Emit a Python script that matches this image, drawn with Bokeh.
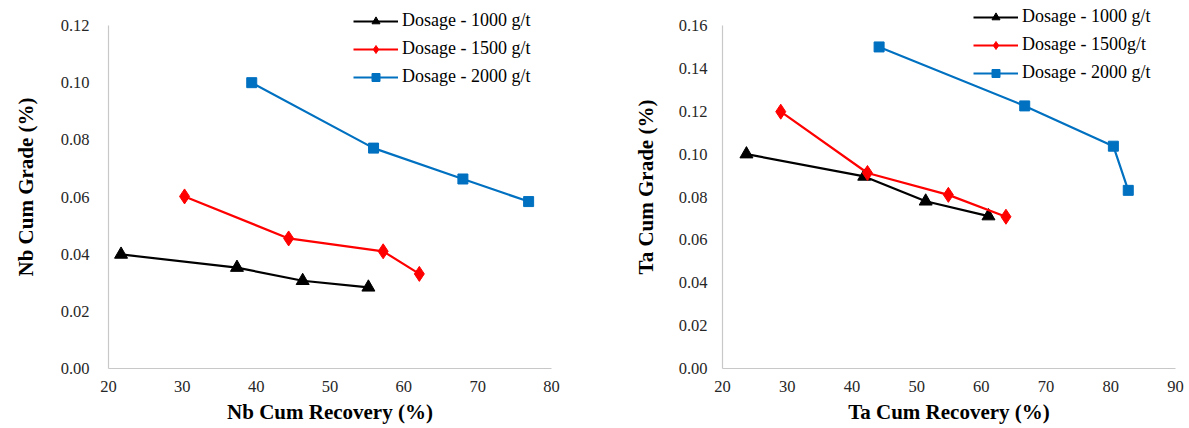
from bokeh.plotting import figure
from bokeh.models import Range1d, NumeralTickFormatter, SingleIntervalTicker, Legend, LegendItem
from bokeh.layouts import row
from bokeh.embed import file_html
from bokeh.resources import INLINE

# ---- data ----
series_names_left = ["Dosage - 1000 g/t", "Dosage - 1500 g/t", "Dosage - 2000 g/t"]
series_names_right = ["Dosage - 1000 g/t", "Dosage - 1500g/t", "Dosage - 2000 g/t"]

nb_rec_1000 = [21.7, 37.4, 46.3, 55.2]
nb_grade_1000 = [0.0399, 0.0353, 0.0307, 0.0284]
nb_rec_1500 = [30.3, 44.4, 57.2, 62.1]
nb_grade_1500 = [0.0602, 0.0455, 0.0410, 0.0331]
nb_rec_2000 = [39.4, 55.9, 68.0, 76.9]
nb_grade_2000 = [0.1000, 0.0771, 0.0663, 0.0584]

ta_rec_1000 = [23.7, 41.9, 51.4, 61.1]
ta_grade_1000 = [0.1000, 0.0896, 0.0780, 0.0711]
ta_rec_1500 = [29.0, 42.4, 54.9, 63.8]
ta_grade_1500 = [0.1198, 0.0912, 0.0810, 0.0708]
ta_rec_2000 = [44.2, 66.7, 80.4, 82.7]
ta_grade_2000 = [0.1500, 0.1225, 0.1037, 0.0831]

SERIF = "Liberation Serif"
COLORS = ["#000000", "#ff0000", "#0070c0"]

FRAME_TOP = 5      # frame starts above the axis top to leave room for the legend
AXIS_TOP = 25      # where the top tick sits
AXIS_BOTTOM = 368  # x axis position


def make_fig(width, border_left, border_right, xr, ymax, ystep, xlabel, ylabel,
             xs, ys, names, legend_xy, ylab_standoff, ytitle_standoff):
    y_end = ymax * (AXIS_BOTTOM - FRAME_TOP) / (AXIS_BOTTOM - AXIS_TOP)
    p = figure(width=width, height=426, output_backend="svg", toolbar_location=None,
               x_range=Range1d(*xr), y_range=Range1d(0, y_end),
               min_border_left=border_left, min_border_right=border_right,
               min_border_top=FRAME_TOP, min_border_bottom=426 - AXIS_BOTTOM)
    p.outline_line_color = None
    p.grid.grid_line_color = None
    p.background_fill_color = "white"
    p.border_fill_color = "white"

    p.xaxis.ticker = SingleIntervalTicker(interval=10)
    p.yaxis.ticker = SingleIntervalTicker(interval=ystep)
    p.yaxis.formatter = NumeralTickFormatter(format="0.00")
    p.yaxis.bounds = (0, ymax)
    for ax in (p.xaxis, p.yaxis):
        ax.axis_line_color = "#c8c8c8"
        ax.axis_line_width = 1.2
        ax.major_tick_out = 0
        ax.major_tick_in = 0
        ax.minor_tick_out = 0
        ax.minor_tick_in = 0
        ax.major_label_text_font = SERIF
        ax.major_label_text_font_size = "16.5px"
        ax.major_label_text_color = "#262626"
        ax.axis_label_text_font = SERIF
        ax.axis_label_text_font_style = "bold"
        ax.axis_label_text_font_size = "21px"
        ax.axis_label_text_color = "#000000"
    p.xaxis.major_label_standoff = 12
    p.xaxis.axis_label_standoff = 5
    p.yaxis.major_label_standoff = ylab_standoff
    p.yaxis.axis_label_standoff = ytitle_standoff
    p.xaxis.axis_label = xlabel
    p.yaxis.axis_label = ylabel

    items = []
    markers = ["triangle", "diamond", "square"]
    sizes = [13, 15, 10]
    for i in range(3):
        ln = p.line(xs[i], ys[i], line_color=COLORS[i], line_width=2.2)
        mk = p.scatter(xs[i], ys[i], marker=markers[i], size=sizes[i],
                       fill_color=COLORS[i], line_color=COLORS[i])
        items.append(LegendItem(label=names[i], renderers=[ln, mk]))

    leg = Legend(items=items, location=legend_xy, border_line_color=None,
                 background_fill_alpha=0, padding=0, margin=0, spacing=7,
                 glyph_width=45, glyph_height=20, label_standoff=4,
                 label_text_font=SERIF, label_text_font_size="18px",
                 label_text_color="#000000")
    p.add_layout(leg, "center")
    return p


p1 = make_fig(600, 108, 49, (20, 80), 0.12, 0.02,
              "Nb Cum Recovery (%)", "Nb Cum Grade (%)",
              [nb_rec_1000, nb_rec_1500, nb_rec_2000],
              [nb_grade_1000, nb_grade_1500, nb_grade_2000],
              series_names_left, (245, 281), 19, 20)

p2 = make_fig(588, 122, 13, (20, 90), 0.16, 0.02,
              "Ta Cum Recovery (%)", "Ta Cum Grade (%)",
              [ta_rec_1000, ta_rec_1500, ta_rec_2000],
              [ta_grade_1000, ta_grade_1500, ta_grade_2000],
              series_names_right, (251, 285), 15, 18)

layout = row(p1, p2)
open("out.html", "w").write(file_html(layout, INLINE))
